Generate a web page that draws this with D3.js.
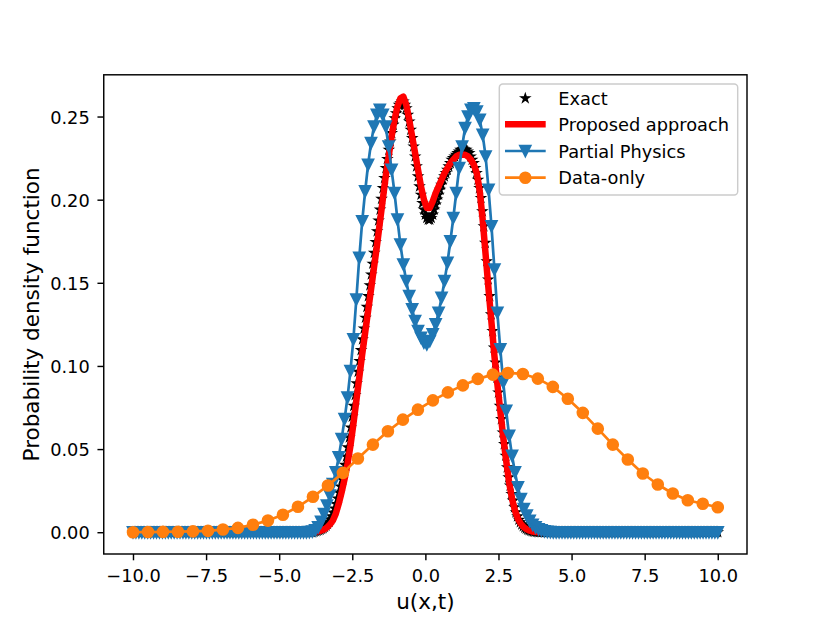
<!DOCTYPE html>
<html>
<head>
<meta charset="utf-8">
<script src="https://cdn.jsdelivr.net/npm/d3@7"></script>
<style>
  body { margin: 0; background: #fff; }
  svg text { font-family: "DejaVu Sans", sans-serif; }
</style>
</head>
<body>
<svg width="830" height="623"></svg>
<script>
// ----------------------------------------------------------
//                      data
// ----------------------------------------------------------
const xMin = -10;
const xMax = 10;
const nExact = 401;  // samples of Exact
const nFine = 200;   // samples of Proposed / Partial Physics
const nCoarse = 40;  // samples of Data-only

const xTicks = [-10, -7.5, -5, -2.5, 0, 2.5, 5, 7.5, 10];
const yTicks = [0, 0.05, 0.10, 0.15, 0.20, 0.25];
const seriesNames = ['Exact', 'Proposed approach', 'Partial Physics', 'Data-only'];

const exact = [
  0, 0, 0, 0, 0, 0, 0, 0, 0, 0, 0, 0, 0, 0, 0, 0, 0, 0, 0, 0,
  0, 0, 0, 0, 0, 0, 0, 0, 0, 0, 0, 0, 0, 0, 0, 0, 0, 0, 0, 0,
  0, 0, 0, 0, 0, 0, 0, 0, 0, 0, 0, 0, 0, 0, 0, 0, 0, 0, 0, 0,
  0, 0, 0, 0, 0, 0, 0, 0, 0, 0, 0, 0, 0, 0, 0, 0, 0, 0, 0, 0,
  0, 0, 0, 0, 0, 0, 0, 0, 0, 0, 0, 0, 0, 0, 0, 0, 0, 0, 0, 0,
  0, 0, 0, 0, 0, 0, 0, 0, 0, 0, 0, 0, 0, 0, 0, 0, 0, 0, 0, 0,
  0, 0, 0, 0,
  0.0004, 0.0006, 0.0009, 0.0012, 0.0015, 0.002, 0.0025, 0.0032, 0.004, 0.005,
  0.0062, 0.0077, 0.0095, 0.0118, 0.0143, 0.017, 0.0203, 0.0238, 0.0275, 0.0318,
  0.036, 0.0405, 0.0455, 0.051, 0.057, 0.063, 0.0695, 0.076, 0.0825, 0.0895,
  0.0965, 0.103, 0.1095, 0.116, 0.1225, 0.129, 0.1355, 0.142, 0.1485, 0.155,
  0.1615, 0.168, 0.1745, 0.181, 0.1875, 0.194, 0.2005, 0.207, 0.213, 0.219,
  0.2245, 0.230, 0.235, 0.240, 0.245, 0.249, 0.252, 0.255, 0.257, 0.258,
  0.259, 0.259, 0.257, 0.255, 0.251, 0.247, 0.242, 0.237, 0.232, 0.226,
  0.220, 0.214, 0.208, 0.203, 0.198, 0.194, 0.191, 0.189, 0.188, 0.188,
  0.189, 0.191, 0.194, 0.197, 0.200, 0.203, 0.206, 0.209, 0.212, 0.214,
  0.216, 0.218, 0.220, 0.222, 0.224, 0.225, 0.226, 0.227, 0.228, 0.229,
  0.230, 0.230, 0.230, 0.230, 0.230, 0.229, 0.228, 0.226, 0.224, 0.222,
  0.219, 0.216, 0.212, 0.207, 0.201, 0.193, 0.184, 0.174, 0.163, 0.152,
  0.142, 0.131, 0.121, 0.111, 0.102, 0.093, 0.084, 0.076, 0.068, 0.060,
  0.053, 0.046, 0.039, 0.033, 0.028, 0.023, 0.019, 0.015, 0.012, 0.0095,
  0.0075, 0.006, 0.0047, 0.0036, 0.0028, 0.0021, 0.0016, 0.0012, 0.0009, 0.0006,
  0.0004, 0.0003, 0.0002,
  0, 0, 0, 0, 0, 0, 0, 0, 0, 0, 0, 0, 0, 0, 0, 0, 0, 0, 0, 0,
  0, 0, 0, 0, 0, 0, 0, 0, 0, 0, 0, 0, 0, 0, 0, 0, 0, 0, 0, 0,
  0, 0, 0, 0, 0, 0, 0, 0, 0, 0, 0, 0, 0, 0, 0, 0, 0, 0, 0, 0,
  0, 0, 0, 0, 0, 0, 0, 0, 0, 0, 0, 0, 0, 0, 0, 0, 0, 0, 0, 0,
  0, 0, 0, 0, 0, 0, 0, 0, 0, 0, 0, 0, 0, 0, 0, 0, 0, 0, 0, 0,
  0, 0, 0, 0, 0, 0, 0, 0, 0, 0, 0, 0, 0, 0, 0, 0, 0, 0, 0, 0,
  0, 0, 0, 0
];

const proposed = [
  0, 0, 0, 0, 0, 0, 0, 0, 0, 0,
  0, 0, 0, 0, 0, 0, 0, 0, 0, 0,
  0, 0, 0, 0, 0, 0, 0, 0, 0, 0,
  0, 0, 0, 0, 0, 0, 0, 0, 0, 0,
  0, 0, 0, 0, 0, 0, 0, 0, 0, 0,
  0, 0, 0, 0, 0, 0, 0, 0, 0, 0,
  0, 0, 0.0002, 0.0005, 0.001, 0.0017, 0.0028, 0.0046, 0.007, 0.011,
  0.017, 0.024, 0.032, 0.041, 0.052, 0.065, 0.079, 0.093, 0.107, 0.120,
  0.133, 0.146, 0.159, 0.172, 0.186, 0.200, 0.214, 0.226, 0.238, 0.248,
  0.256, 0.261, 0.262, 0.257, 0.248, 0.238, 0.228, 0.218, 0.208, 0.200,
  0.195, 0.195, 0.199, 0.204, 0.208, 0.212, 0.216, 0.219, 0.222, 0.224,
  0.226, 0.227, 0.227, 0.227, 0.226, 0.224, 0.221, 0.216, 0.205, 0.188,
  0.167, 0.146, 0.126, 0.106, 0.089, 0.073, 0.057, 0.043, 0.030, 0.020,
  0.013, 0.008, 0.005, 0.003, 0.0017, 0.0009, 0.0004, 0.0001, 0, 0,
  0, 0, 0, 0, 0, 0, 0, 0, 0, 0,
  0, 0, 0, 0, 0, 0, 0, 0, 0, 0,
  0, 0, 0, 0, 0, 0, 0, 0, 0, 0,
  0, 0, 0, 0, 0, 0, 0, 0, 0, 0,
  0, 0, 0, 0, 0, 0, 0, 0, 0, 0,
  0, 0, 0, 0, 0, 0, 0, 0, 0, 0
];

const partialPhysics = [
  0, 0, 0, 0, 0, 0, 0, 0, 0, 0,
  0, 0, 0, 0, 0, 0, 0, 0, 0, 0,
  0, 0, 0, 0, 0, 0, 0, 0, 0, 0,
  0, 0, 0, 0, 0, 0, 0, 0, 0, 0,
  0, 0, 0, 0, 0, 0, 0, 0, 0, 0,
  0, 0, 0, 0, 0, 0, 0, 0, 0, 0,
  0.0001, 0.0004, 0.0012, 0.003, 0.0062, 0.011, 0.016, 0.022, 0.029, 0.036,
  0.045, 0.056, 0.068, 0.081, 0.097, 0.116, 0.140, 0.165, 0.187, 0.205,
  0.221, 0.234, 0.244, 0.251, 0.254, 0.251, 0.244, 0.232, 0.218, 0.204,
  0.188, 0.173, 0.161, 0.151, 0.142, 0.134, 0.127, 0.121, 0.117, 0.114,
  0.113, 0.115, 0.119, 0.125, 0.132, 0.141, 0.151, 0.162, 0.175, 0.189,
  0.204, 0.219, 0.232, 0.243, 0.250, 0.254, 0.255, 0.253, 0.248, 0.239,
  0.226, 0.206, 0.184, 0.158, 0.132, 0.110, 0.090, 0.073, 0.058, 0.046,
  0.036, 0.027, 0.020, 0.014, 0.010, 0.0068, 0.0045, 0.0029, 0.0018, 0.0011,
  0.0006, 0.0003, 0.0001, 0, 0, 0, 0, 0, 0, 0,
  0, 0, 0, 0, 0, 0, 0, 0, 0, 0,
  0, 0, 0, 0, 0, 0, 0, 0, 0, 0,
  0, 0, 0, 0, 0, 0, 0, 0, 0, 0,
  0, 0, 0, 0, 0, 0, 0, 0, 0, 0,
  0, 0, 0, 0, 0, 0, 0, 0, 0, 0
];

const dataOnly = [
  0, 0.0001, 0.0002, 0.0003, 0.0005, 0.0008, 0.0016, 0.0026, 0.0045, 0.007,
  0.0105, 0.0153, 0.0213, 0.0281, 0.0357, 0.0443, 0.0527, 0.0607, 0.0677, 0.0737,
  0.0793, 0.0841, 0.0883, 0.0922, 0.0948, 0.0958, 0.0952, 0.0924, 0.0874, 0.0803,
  0.0718, 0.0623, 0.0527, 0.0437, 0.0353, 0.0287, 0.0233, 0.0192, 0.0171, 0.0150
];

// sampling grids (evenly spaced, like linspace)
const grid = n => d3.range(n).map(i => xMin + i * (xMax - xMin) / (n - 1));
const zip = (xs, ys) => xs.map((x, i) => [x, ys[i]]);

// ----------------------------------------------------------
//                      layout
// ----------------------------------------------------------
const plot = { left: 103.75, right: 747, top: 74.8, bottom: 554 };
const fontPx = 17.8;
const labelPx = 21.5;
const tickLen = 6.3;
const blue = '#1f77b4';
const orange = '#ff7f0e';

const svg = d3.select('svg');

const xScale = d3.scaleLinear()
    .domain([-11, 11])
    .range([plot.left, plot.right]);

const yScale = d3.scaleLinear()
    .domain([-0.0131, 0.2751])
    .range([plot.bottom, plot.top]);

// ----------------------------------------------------------
//                      axes
// ----------------------------------------------------------
const xAxis = svg.append('g')
    .attr('transform', `translate(0, ${plot.bottom})`)
    .call(d3.axisBottom(xScale)
        .tickValues(xTicks)
        .tickFormat(d3.format('.1f'))
        .tickSize(tickLen)
        .tickPadding(9.2));

const yAxis = svg.append('g')
    .attr('transform', `translate(${plot.left}, 0)`)
    .call(d3.axisLeft(yScale)
        .tickValues(yTicks)
        .tickFormat(d3.format('.2f'))
        .tickSize(tickLen)
        .tickPadding(7.7));

[xAxis, yAxis].forEach(ax => {
    ax.select('.domain').remove();
    ax.selectAll('.tick line').attr('stroke', '#000').attr('stroke-width', 1.44);
    ax.selectAll('.tick text')
        .attr('fill', '#000')
        .style('font-family', '"DejaVu Sans", sans-serif')
        .style('font-size', fontPx + 'px');
});
yAxis.selectAll('.tick text').attr('dy', '0.38em');

svg.append('text')
    .attr('x', (plot.left + plot.right) / 2)
    .attr('y', 609)
    .attr('text-anchor', 'middle')
    .style('font-size', labelPx + 'px')
    .text('u(x,t)');

svg.append('text')
    .attr('transform', `translate(39, ${(plot.top + plot.bottom) / 2}) rotate(-90)`)
    .attr('text-anchor', 'middle')
    .style('font-size', labelPx + 'px')
    .text('Probability density function');

// ----------------------------------------------------------
//                      marker shapes
// ----------------------------------------------------------
function starPath(r) {
    const pts = [];
    for (let k = 0; k < 10; k++) {
        const rr = k % 2 ? r * 0.381966 : r;
        const a = -Math.PI / 2 + k * Math.PI / 5;
        pts.push([rr * Math.cos(a), rr * Math.sin(a)]);
    }
    return 'M' + pts.map(p => p[0].toFixed(2) + ',' + p[1].toFixed(2)).join('L') + 'Z';
}
const triDown = r => `M0,${r}L${-r},${-r}L${r},${-r}Z`;

const starD = starPath(4.7);
const triD = triDown(5.4);

const line = d3.line()
    .x(d => xScale(d[0]))
    .y(d => yScale(d[1]));

const chart = svg.append('g');

function markers(pts, d, color, sw) {
    chart.append('g')
        .selectAll('path')
        .data(pts)
        .enter().append('path')
        .attr('d', d)
        .attr('transform', p => `translate(${xScale(p[0])}, ${yScale(p[1])})`)
        .attr('fill', color)
        .attr('stroke', color)
        .attr('stroke-width', sw);
}

// ----------------------------------------------------------
//                      series
// ----------------------------------------------------------
const exactPts = zip(grid(nExact), exact);
const proposedPts = zip(grid(nFine), proposed);
const partialPts = zip(grid(nFine), partialPhysics);
const dataOnlyPts = zip(grid(nCoarse), dataOnly);

// Exact: markers only
markers(exactPts, starD, '#000', 1.2);

// Proposed approach: thick red line
chart.append('path')
    .datum(proposedPts)
    .attr('d', line)
    .attr('fill', 'none')
    .attr('stroke', '#ff0000')
    .attr('stroke-width', 6.5)
    .attr('stroke-linejoin', 'round');

// Partial Physics
chart.append('path')
    .datum(partialPts)
    .attr('d', line)
    .attr('fill', 'none')
    .attr('stroke', blue)
    .attr('stroke-width', 2.7)
    .attr('stroke-linejoin', 'round');
markers(partialPts, triD, blue, 1.8);

// Data-only
chart.append('path')
    .datum(dataOnlyPts)
    .attr('d', line)
    .attr('fill', 'none')
    .attr('stroke', orange)
    .attr('stroke-width', 2.7)
    .attr('stroke-linejoin', 'round');
chart.append('g')
    .selectAll('circle')
    .data(dataOnlyPts)
    .enter().append('circle')
    .attr('cx', p => xScale(p[0]))
    .attr('cy', p => yScale(p[1]))
    .attr('r', 5.4)
    .attr('fill', orange)
    .attr('stroke', orange)
    .attr('stroke-width', 1.8);

// frame
svg.append('rect')
    .attr('x', plot.left)
    .attr('y', plot.top)
    .attr('width', plot.right - plot.left)
    .attr('height', plot.bottom - plot.top)
    .attr('fill', 'none')
    .attr('stroke', '#000')
    .attr('stroke-width', 1.44);

// ----------------------------------------------------------
//                      legend
// ----------------------------------------------------------
const legend = svg.append('g').attr('transform', 'translate(499.3, 84)');

legend.append('rect')
    .attr('width', 238.4)
    .attr('height', 111)
    .attr('rx', 3.5)
    .attr('fill', '#fff')
    .attr('fill-opacity', 0.8)
    .attr('stroke', '#cccccc')
    .attr('stroke-width', 1.44);

const rowY = [14.3, 40.3, 67, 93.7];
const hx0 = 5.7, hx1 = 46.4, hxm = 26;

seriesNames.forEach((name, i) => {
    const row = legend.append('g').attr('transform', `translate(0, ${rowY[i]})`);
    if (i === 0) {
        row.append('path').attr('d', starD).attr('transform', `translate(${hxm}, 0)`)
            .attr('fill', '#000').attr('stroke', '#000').attr('stroke-width', 1.2);
    } else if (i === 1) {
        row.append('line').attr('x1', hx0).attr('x2', hx1)
            .attr('stroke', '#ff0000').attr('stroke-width', 6.5);
    } else {
        const c = i === 2 ? blue : orange;
        row.append('line').attr('x1', hx0).attr('x2', hx1)
            .attr('stroke', c).attr('stroke-width', 2.7);
        if (i === 2) {
            row.append('path').attr('d', triD).attr('transform', `translate(${hxm}, 0)`)
                .attr('fill', c).attr('stroke', c).attr('stroke-width', 1.8);
        } else {
            row.append('circle').attr('cx', hxm).attr('r', 5.4)
                .attr('fill', c).attr('stroke', c).attr('stroke-width', 1.8);
        }
    }
    row.append('text')
        .attr('x', 59)
        .attr('y', 6.5)
        .style('font-size', fontPx + 'px')
        .text(name);
});
</script>
</body>
</html>
